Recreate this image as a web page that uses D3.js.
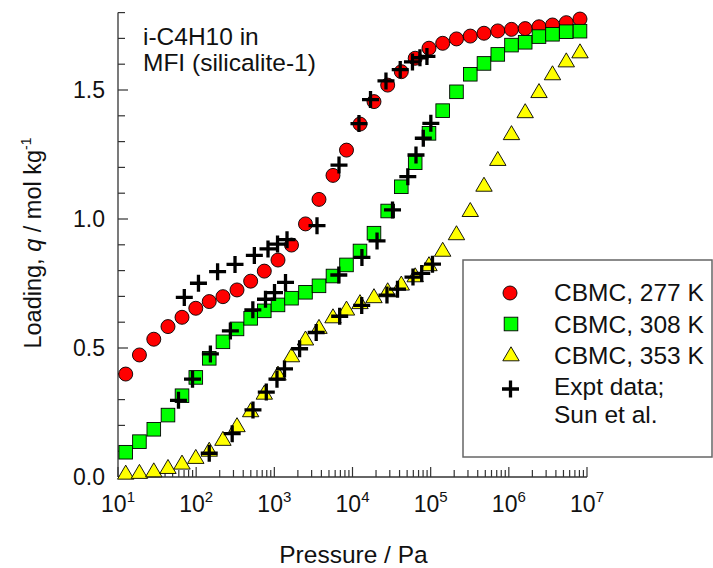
<!DOCTYPE html>
<html><head><meta charset="utf-8">
<script src="https://cdn.jsdelivr.net/npm/d3@7"></script>
<style>body{margin:0;background:#fff;} svg{display:block;font-family:"Liberation Sans",Arial,sans-serif;}</style>
</head><body><svg id="c" width="713" height="568"></svg>
<script>
// CBMC simulation pressures (Pa), shared by the three temperatures
const pCBMC = [12.55, 18.8, 28.7, 43.6, 65.9, 98.9, 147, 220, 333, 498, 744, 1114, 1658, 2504, 3727, 5628, 8377, 12470, 18830, 28190, 42100, 63400, 95200, 142500, 213900, 321200, 481000, 722200, 1.081e6, 1.619e6, 2.431e6, 3.618e6, 5.433e6, 8.135e6];
const q277 = [0.399, 0.473, 0.534, 0.583, 0.619, 0.654, 0.680, 0.699, 0.725, 0.759, 0.798, 0.841, 0.899, 0.981, 1.076, 1.169, 1.267, 1.368, 1.455, 1.519, 1.571, 1.623, 1.662, 1.681, 1.698, 1.709, 1.720, 1.729, 1.735, 1.738, 1.745, 1.752, 1.761, 1.775];
const q308 = [0.096, 0.137, 0.185, 0.240, 0.315, 0.386, 0.460, 0.524, 0.574, 0.615, 0.644, 0.667, 0.693, 0.716, 0.741, 0.779, 0.822, 0.876, 0.945, 1.031, 1.125, 1.218, 1.332, 1.420, 1.493, 1.561, 1.603, 1.638, 1.674, 1.685, 1.707, 1.716, 1.726, 1.728];
const q353 = [0.018, 0.021, 0.027, 0.040, 0.057, 0.079, 0.107, 0.149, 0.202, 0.260, 0.328, 0.402, 0.473, 0.538, 0.583, 0.624, 0.654, 0.679, 0.702, 0.725, 0.751, 0.783, 0.826, 0.882, 0.946, 1.036, 1.134, 1.234, 1.334, 1.419, 1.497, 1.566, 1.616, 1.651];

// Experimental data (Sun et al.)
const pExp277 = [70.5, 107, 188, 314, 555, 830, 1099, 1453, 3515, 6720, 12100, 17000, 26800, 40800, 58500, 72900, 89600];
const qExp277 = [0.696, 0.751, 0.796, 0.824, 0.859, 0.884, 0.903, 0.920, 0.974, 1.209, 1.370, 1.463, 1.535, 1.579, 1.609, 1.625, 1.630];
const pExp308 = [59.4, 89.8, 152, 274, 531, 771, 1005, 1390, 6680, 13200, 20600, 32500, 51000, 64900, 80500, 100500];
const qExp308 = [0.297, 0.379, 0.477, 0.566, 0.648, 0.689, 0.715, 0.754, 0.783, 0.851, 0.915, 1.035, 1.164, 1.248, 1.313, 1.371];
const pExp353 = [147, 289, 533, 789, 1081, 1349, 2105, 3433, 6857, 13120, 27600, 37650, 59400, 76800, 105500];
const qExp353 = [0.092, 0.168, 0.260, 0.329, 0.379, 0.419, 0.497, 0.560, 0.623, 0.665, 0.705, 0.728, 0.775, 0.789, 0.825];

const xTickExps = [1, 2, 3, 4, 5, 6, 7];
const yTickLabels = ["0.0", "0.5", "1.0", "1.5"];
const legendLabels = ["CBMC, 277 K", "CBMC, 308 K", "CBMC, 353 K", "Expt data;", "Sun et al."];

const svg = d3.select("#c");
const x = d3.scaleLog().domain([10, 1e7]).range([118, 587]);
const y = d3.scaleLinear().domain([0, 1.8]).range([477, 12.6]);
const axisColor = "#333";
const FS = 23;     // tick labels
const FT = 24.5;   // titles, annotation, legend

// axes lines
svg.append("line").attr("x1", x(10)).attr("x2", x(1e7)).attr("y1", y(0)).attr("y2", y(0)).attr("stroke", axisColor).attr("stroke-width", 1.3);
svg.append("line").attr("x1", x(10)).attr("x2", x(10)).attr("y1", y(0)).attr("y2", y(1.8)).attr("stroke", axisColor).attr("stroke-width", 1.3);

// x ticks (inward)
const xTicks = [];
for (let e = 1; e < 7; e++) for (let m = 1; m < 10; m++) xTicks.push({v: m * Math.pow(10, e), major: m === 1});
xTicks.push({v: 1e7, major: true});
svg.append("g").selectAll("line").data(xTicks).join("line")
  .attr("x1", d => x(d.v)).attr("x2", d => x(d.v))
  .attr("y1", y(0)).attr("y2", d => y(0) - (d.major ? 10 : 7))
  .attr("stroke", axisColor).attr("stroke-width", 1.2);
const xl = svg.append("g").selectAll("text").data(xTickExps).join("text")
  .attr("x", d => x(Math.pow(10, d))).attr("y", 512)
  .attr("text-anchor", "middle").attr("font-size", FS).attr("fill", "#111");
xl.append("tspan").text("10");
xl.append("tspan").attr("dy", -10).attr("font-size", 15).text(d => d);

// y ticks (inward)
const yTicks = d3.range(0, 19).map(i => ({v: i / 10, major: i % 5 === 0}));
svg.append("g").selectAll("line").data(yTicks).join("line")
  .attr("x1", x(10)).attr("x2", d => x(10) + (d.major ? 10 : 7))
  .attr("y1", d => y(d.v)).attr("y2", d => y(d.v))
  .attr("stroke", axisColor).attr("stroke-width", 1.2);
svg.append("g").selectAll("text").data(yTickLabels).join("text")
  .attr("x", 105).attr("y", d => y(+d) + 8)
  .attr("text-anchor", "end").attr("font-size", FS).attr("fill", "#111").text(d => d);

// axis titles
svg.append("text").attr("x", 353.5).attr("y", 563).attr("text-anchor", "middle").attr("font-size", FT).attr("fill", "#111").text("Pressure / Pa");
const yt = svg.append("text").attr("transform", "translate(41,243) rotate(-90)").attr("text-anchor", "middle").attr("font-size", 23.5).attr("fill", "#111");
yt.append("tspan").text("Loading, ");
yt.append("tspan").attr("font-style", "italic").text("q");
yt.append("tspan").text(" / mol kg");
yt.append("tspan").attr("dy", -10).attr("font-size", 14).text("-1");

// annotation
svg.append("text").attr("x", 143).attr("y", 45).attr("font-size", FT).attr("fill", "#111").text("i-C4H10 in");
svg.append("text").attr("x", 143).attr("y", 71).attr("font-size", FT).attr("fill", "#111").text("MFI (silicalite-1)");

// marker helpers
const triPath = "M0,-7.2L8.2,6.8L-8.2,6.8Z";
const plusPath = "M-8.5,0H8.5M0,-8.5V8.5";
const mk = (arrP, arrQ) => arrP.map((p, i) => ({p, q: arrQ[i]}));

const gData = svg.append("g");
gData.append("g").selectAll("circle").data(mk(pCBMC, q277)).join("circle")
  .attr("cx", d => x(d.p)).attr("cy", d => y(d.q)).attr("r", 7)
  .attr("fill", "#ff0000").attr("stroke", "#000").attr("stroke-width", 0.9);
gData.append("g").selectAll("rect").data(mk(pCBMC, q308)).join("rect")
  .attr("x", d => x(d.p) - 6.8).attr("y", d => y(d.q) - 6.8).attr("width", 13.6).attr("height", 13.6)
  .attr("fill", "#00ff00").attr("stroke", "#000").attr("stroke-width", 0.9);
gData.append("g").selectAll("path").data(mk(pCBMC, q353)).join("path")
  .attr("transform", d => `translate(${x(d.p)},${y(d.q)})`).attr("d", triPath)
  .attr("fill", "#ffff00").attr("stroke", "#000").attr("stroke-width", 0.9);
const expAll = [...mk(pExp277, qExp277), ...mk(pExp308, qExp308), ...mk(pExp353, qExp353)];
gData.append("g").selectAll("path").data(expAll).join("path")
  .attr("transform", d => `translate(${x(d.p)},${y(d.q)})`).attr("d", plusPath)
  .attr("fill", "none").attr("stroke", "#000").attr("stroke-width", 3.3);

// legend
const lg = svg.append("g");
lg.append("rect").attr("x", 463).attr("y", 260).attr("width", 249).attr("height", 197)
  .attr("fill", "#fff").attr("stroke", "#666").attr("stroke-width", 1.5);
lg.append("circle").attr("cx", 510).attr("cy", 293).attr("r", 7).attr("fill", "#ff0000").attr("stroke", "#000").attr("stroke-width", 0.9);
lg.append("rect").attr("x", 511 - 6.8).attr("y", 324 - 6.8).attr("width", 13.6).attr("height", 13.6).attr("fill", "#00ff00").attr("stroke", "#000").attr("stroke-width", 0.9);
lg.append("path").attr("transform", "translate(511,354)").attr("d", triPath).attr("fill", "#ffff00").attr("stroke", "#000").attr("stroke-width", 0.9);
lg.append("path").attr("transform", "translate(510.5,389)").attr("d", plusPath).attr("fill", "none").attr("stroke", "#000").attr("stroke-width", 3.3);
const legY = [301, 333, 364, 395, 423];
lg.selectAll("text").data(legendLabels).join("text")
  .attr("x", 554).attr("y", (d, i) => legY[i]).attr("font-size", FT).attr("fill", "#111").text(d => d);
</script></body></html>
